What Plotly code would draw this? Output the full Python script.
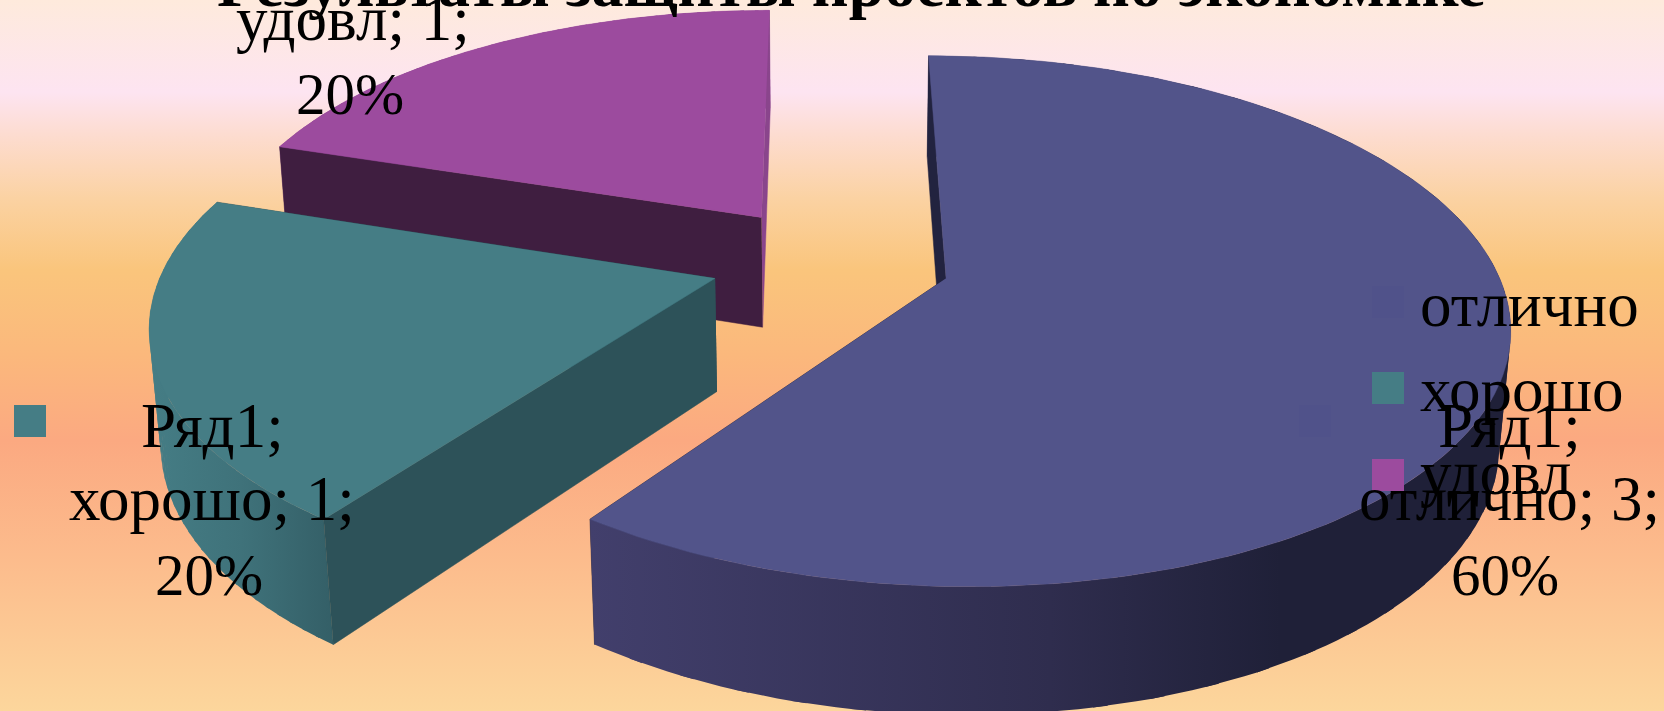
import numpy as np
import plotly.graph_objects as go

# ---- data ----
title_text = "Результаты защиты проектов по экономике"
series_name = "Ряд1"
categories = ["отлично", "хорошо", "удовл"]
values = [3, 1, 1]

# ---- styles ----
W, H = 1664, 711
top_colors = ["#52548A", "#457D85", "#9C4B9E"]
key_colors = ["#50528A", "#457D85", "#9C4B9E"]
start_wall = ["#22233F", "#2D5259", "#3F1E40"]   # wall on the first radial edge
end_wall = ["#22233F", "#2D5259", "#8A458C"]     # wall on the last radial edge
rim_grad = [
    [[0, "#423F6C"], [0.5, "#2F2D4E"], [0.75, "#1F2038"], [1, "#1F2038"]],
    [[0, "#457D85"], [0.5, "#3F727A"], [1, "#345F67"]],
    [[0, "#8A458C"], [1, "#8A458C"]],
]
# order of painting: back to front
paint_order = [2, 1, 0]
bg_stops = [
    [0.00, "#FEEADC"], [0.13, "#FDE4F1"], [0.19, "#FDDCD0"], [0.28, "#FBD2A2"],
    [0.38, "#FAC57C"], [0.50, "#FBB87C"], [0.62, "#FBA981"], [0.78, "#FCBB8C"],
    [1.00, "#FCD69C"],
]
FS_WORD, FS_PCT, FS_TITLE = 63, 59, 64
FONT = "Liberation Serif"

# ---- projection of the 3-D pie ----
X0, Y0, BX, AY, DZ, P, Q, R, C = 830.5, 261.0, 548.5, 253.0, 114.0, 0.16, 0.0165, -0.0012, -0.003
EXPLODE = 0.219


def project(x, y, z):
    w = 1 + P * y + Q * z - R * x
    return X0 + BX * (x + C * y) / w, Y0 + (-AY * y + DZ * z) / w


def draw(fig, xs, ys, color=None, grad=None, span=None):
    kw = dict(x=list(xs), y=list(ys), mode="lines", fill="toself",
              hoverinfo="skip", showlegend=False)
    if grad is not None:
        kw["fillgradient"] = dict(type="horizontal", colorscale=grad, start=span[0], stop=span[1])
        kw["line"] = dict(width=0)
    else:
        kw["fillcolor"] = color
        kw["line"] = dict(width=0.5, color=color)
    fig.add_trace(go.Scatter(**kw))


fig = go.Figure()

# background
fig.add_trace(go.Scatter(
    x=[0, W, W, 0, 0], y=[0, 0, H, H, 0], mode="lines", fill="toself",
    line=dict(width=0), hoverinfo="skip", showlegend=False,
    fillgradient=dict(type="vertical", colorscale=bg_stops, start=0, stop=H),
))

total = sum(values)
edges = np.concatenate([[0], np.cumsum(values)]) / total * 2 * np.pi


def radial_wall(fig, ang, col, ox, oy):
    ex, ey = ox + np.sin(ang), oy + np.cos(ang)
    pts = [project(ox, oy, 0), project(ex, ey, 0), project(ex, ey, 1), project(ox, oy, 1)]
    draw(fig, [p[0] for p in pts], [p[1] for p in pts], color=col)


for i in paint_order:
    a0, a1 = edges[i], edges[i + 1]
    mid = (a0 + a1) / 2
    ox, oy = EXPLODE * np.sin(mid), EXPLODE * np.cos(mid)
    t = np.linspace(a0, a1, 161)
    rx, ry = ox + np.sin(t), oy + np.cos(t)

    radial_wall(fig, a1, end_wall[i], ox, oy)

    # outer wall as overlapping strips, so the fold at the silhouette stays filled
    tx, ty = project(rx, ry, 0)
    bx, by = project(rx, ry, 1)
    span = (min(tx.min(), bx.min()), max(tx.max(), bx.max()))
    for k in range(0, 160, 4):
        s = slice(k, min(k + 6, 161))
        draw(fig, np.r_[tx[s], bx[s][::-1]], np.r_[ty[s], by[s][::-1]], grad=rim_grad[i], span=span)

    radial_wall(fig, a0, start_wall[i], ox, oy)

    # top face
    fx, fy = project(np.r_[ox, rx], np.r_[oy, ry], 0)
    draw(fig, fx, fy, color=top_colors[i])

# legend and data-label keys
legend_key_x = [1388, 1388, 1388]
legend_key_y = [302, 388, 475]
fig.add_trace(go.Scatter(
    x=legend_key_x + [30, 1315], y=legend_key_y + [421, 421], mode="markers",
    marker=dict(symbol="square", size=32, color=key_colors + [key_colors[1], key_colors[0]],
                line=dict(width=0)),
    hoverinfo="skip", showlegend=False,
))

pct = [round(100 * v / total) for v in values]
annotations = []


def text(x, baseline, s, size, bold=False, anchor="center"):
    annotations.append(dict(
        x=x, y=baseline + size * 0.216 + 1, xref="x", yref="y", text=f"<b>{s}</b>" if bold else s,
        showarrow=False, xanchor=anchor, yanchor="bottom", borderpad=0,
        font=dict(family=FONT, size=size, color="black"),
    ))


text(851, 6, title_text, FS_TITLE, bold=True)

# legend texts
for c, b in zip(categories, [326, 411, 494]):
    text(1419, b, c, FS_WORD, anchor="left")

# data labels
label_x = [1509, 212, 353]
pct_x = [1505, 209, 350]
label_base = [[447, 520, 595], [447, 520, 595], [-37, 40, 114]]
for i in range(3):
    lines = [f"{series_name};", f"{categories[i]}; {values[i]};", f"{pct[i]}%"]
    sizes = [FS_WORD, FS_WORD, FS_PCT]
    xs = [label_x[i], label_x[i], pct_x[i]]
    for s, b, z, x in zip(lines, label_base[i], sizes, xs):
        if b > 0:
            text(x, b, s, z)

fig.update_layout(
    width=W, height=H, margin=dict(l=0, r=0, t=0, b=0),
    paper_bgcolor="#FCD69C", plot_bgcolor="rgba(0,0,0,0)",
    xaxis=dict(range=[0, W], visible=False, fixedrange=True),
    yaxis=dict(range=[H, 0], visible=False, fixedrange=True),
    annotations=annotations, showlegend=False,
)
fig.write_html("out.html", config={"displayModeBar": False},
               post_script="document.body.style.margin='0';document.documentElement.style.overflow='hidden';")
